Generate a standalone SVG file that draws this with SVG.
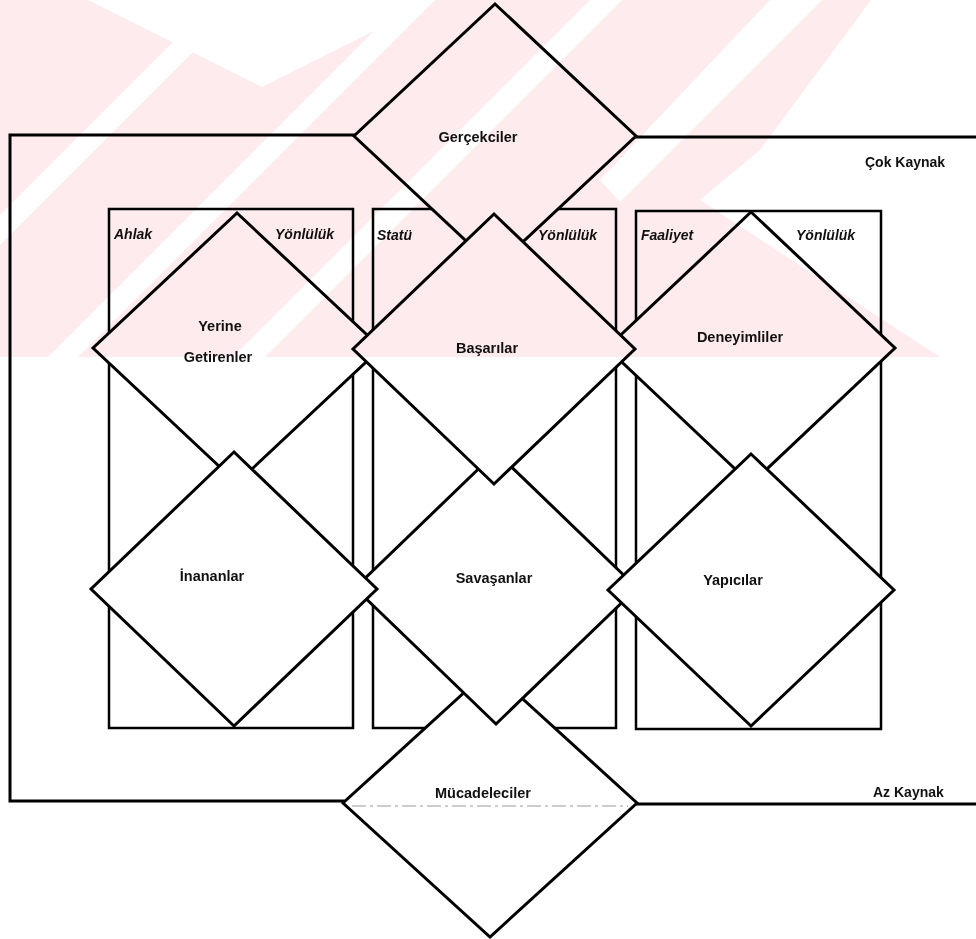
<svg xmlns="http://www.w3.org/2000/svg" width="976" height="939" viewBox="0 0 976 939">
  <style>
    .frame { fill: none; stroke: #000; stroke-width: 3; stroke-linecap: square; }
    .box { fill: none; stroke: #000; stroke-width: 2.5; }
    .dia { fill: #fff; stroke: #000; stroke-width: 3; stroke-linejoin: miter; }
    .lbl { font-family: "Liberation Sans", Arial, sans-serif; font-weight: bold; font-size: 14.5px; fill: #111; }
    .mid { text-anchor: middle; }
    .ax { font-family: "Liberation Sans", Arial, sans-serif; font-weight: bold; font-size: 14px; fill: #111; }
    .tag { font-family: "Liberation Sans", Arial, sans-serif; font-weight: bold; font-style: italic; font-size: 14px; fill: #111; }
    .mark { fill: #fdebee; mix-blend-mode: multiply; }
  </style>
  <defs>
    <!-- gaps cut out of the pale stamp -->
    <mask id="stampGaps" maskUnits="userSpaceOnUse" x="0" y="0" width="976" height="357">
      <rect width="976" height="357" fill="#fff"/>
      <g fill="#000">
        <polygon points="88,0 262,87 436,0"/>
        <polygon points="215,0 245,0 0,245 0,215"/>
        <polygon points="405,0 435,0 78,357 48,357"/>
        <polygon points="590,0 622,0 265,357 233,357"/>
        <polygon points="770,0 822,0 620,202 600,180"/>
        <polygon points="871,0 976,0 976,357 940,357 700,200 760,150"/>
      </g>
    </mask>
  </defs>
  <rect width="976" height="939" fill="#fff"/>

  <!-- resource axis frame: "many resources" above, "few resources" below -->
  <g id="connectors">
    <polyline class="frame" points="354,135 10,135 10,801 343,801"/>
    <line class="frame" x1="636" y1="137" x2="976" y2="137"/>
    <line class="frame" x1="637" y1="804" x2="976" y2="804"/>
    <text class="ax" x="865" y="167">Çok Kaynak</text>
    <text class="ax" x="873" y="797">Az Kaynak</text>
  </g>

  <!-- orientation columns -->
  <g id="box-ahlak">
    <rect class="box" x="109" y="209" width="244" height="519"/>
    <text class="tag" x="114" y="239">Ahlak</text>
    <text class="tag" x="275" y="239">Yönlülük</text>
  </g>
  <g id="box-statu">
    <rect class="box" x="373" y="209" width="243" height="519"/>
    <text class="tag" x="377" y="240">Statü</text>
    <text class="tag" x="538" y="240">Yönlülük</text>
  </g>
  <g id="box-faaliyet">
    <rect class="box" x="636" y="211" width="245" height="518"/>
    <text class="tag" x="641" y="240">Faaliyet</text>
    <text class="tag" x="796" y="240">Yönlülük</text>
  </g>

  <!-- types, drawn back to front -->
  <g id="gercekciler">
    <polygon class="dia" points="495,4 636,136 495,268 354,136"/>
    <text class="lbl mid" x="478" y="142">Gerçekciler</text>
  </g>
  <g id="yerine-getirenler">
    <polygon class="dia" points="237,213 381,348 237,483 93,348"/>
    <text class="lbl mid" x="220" y="331">Yerine</text>
    <text class="lbl mid" x="218" y="362">Getirenler</text>
  </g>
  <g id="deneyimliler">
    <polygon class="dia" points="751,212 895,348 751,484 607,348"/>
    <text class="lbl mid" x="740" y="342">Deneyimliler</text>
  </g>
  <g id="mucadeleciler">
    <polygon class="dia" points="490,669 637,803 490,937 343,803"/>
    <line x1="352" y1="806" x2="628" y2="806" stroke="#999" stroke-width="1" stroke-dasharray="14 4 3 4"/>
    <text class="lbl mid" x="483" y="798">Mücadeleciler</text>
  </g>
  <g id="savasanlar">
    <polygon class="dia" points="496,452 637,588 496,724 355,588"/>
    <text class="lbl mid" x="494" y="583">Savaşanlar</text>
  </g>
  <g id="basarilar">
    <polygon class="dia" points="494,214 635,349 494,484 353,349"/>
    <text class="lbl mid" x="487" y="353">Başarılar</text>
  </g>
  <g id="inananlar">
    <polygon class="dia" points="234,452 377,589 234,726 91,589"/>
    <text class="lbl mid" x="212" y="581">İnananlar</text>
  </g>
  <g id="yapicilar">
    <polygon class="dia" points="751,454 894,590 751,726 608,590"/>
    <text class="lbl mid" x="733" y="585">Yapıcılar</text>
  </g>

  <!-- pale stamp across the upper part -->
  <g id="stamp">
    <rect class="mark" width="976" height="357" mask="url(#stampGaps)"/>
  </g>
</svg>
